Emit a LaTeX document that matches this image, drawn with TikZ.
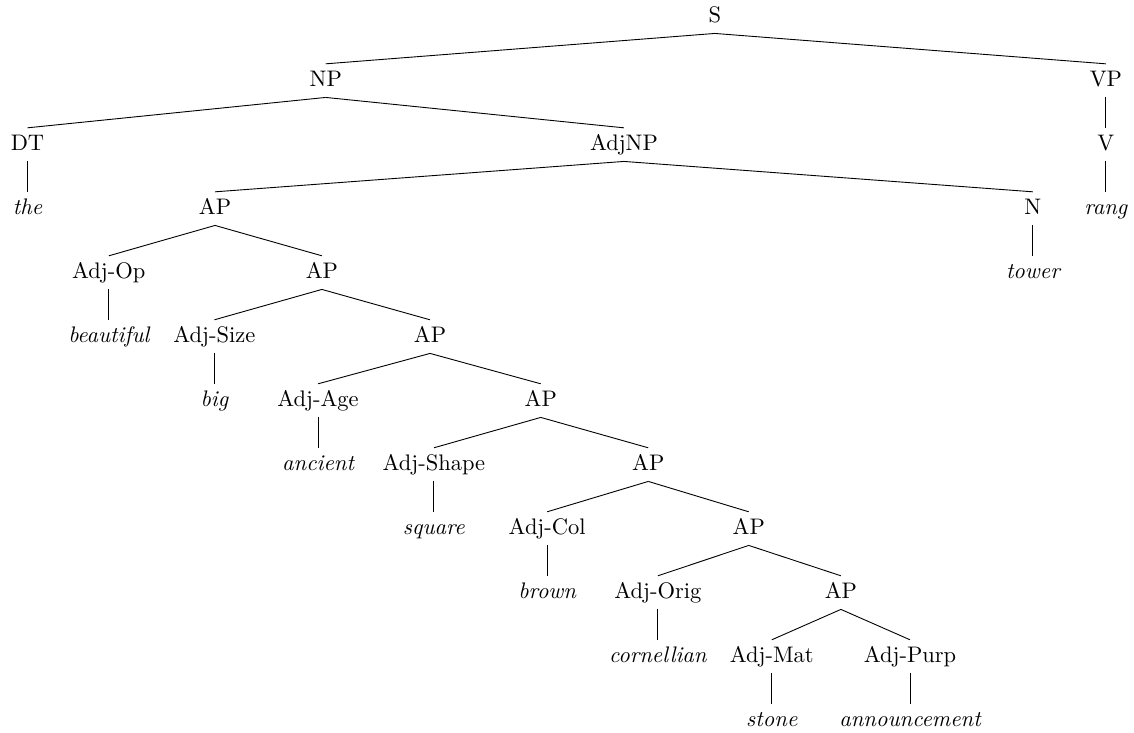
\documentclass[tikz,border=0pt]{standalone}
\usepackage{tikz}
\tikzset{
	cat/.style={inner xsep=2pt, inner ysep=3.5pt, text height=1.5ex, text depth=0.25ex},
	word/.style={cat, font=\itshape},
	branch/.style={line width=0.4pt, color=black}
}

\begin{document}
\begin{tikzpicture}
			%%%%% START %%%%%
			\useasboundingbox (0, -0.19) rectangle (17.72, 11.26);
			
			\node[cat] (S) at (11.17, 11) {S};
			
			\node[cat] (NP) at (5.09, 10) {NP};
			\node[cat] (VP) at (17.28, 10) {VP};
			
			\node[cat] (DT) at (0.43, 9) {DT};
			\node[cat] (AdjNP) at (9.75, 9) {AdjNP};
			\node[cat] (V) at (17.28, 9) {V};
			
			\node[word] (the) at (0.43, 8) {the};
			\node[cat] (AP1) at (3.36, 8) {AP};
			\node[cat] (N) at (16.14, 8) {N};
			\node[word] (rang) at (17.28, 8) {rang};
			
			\node[cat] (AdjOp) at (1.70, 7) {Adj-Op};
			\node[cat] (AP2) at (5.03, 7) {AP};
			\node[word] (tower) at (16.14, 7) {tower};
			
			\node[word] (beautiful) at (1.70, 6) {beautiful};
			\node[cat] (AdjSize) at (3.35, 6) {Adj-Size};
			\node[cat] (AP3) at (6.72, 6) {AP};
			
			\node[word] (big) at (3.35, 5) {big};
			\node[cat] (AdjAge) at (4.97, 5) {Adj-Age};
			\node[cat] (AP4) at (8.45, 5) {AP};
			
			\node[word] (ancient) at (4.97, 4) {ancient};
			\node[cat] (AdjShape) at (6.78, 4) {Adj-Shape};
			\node[cat] (AP5) at (10.13, 4) {AP};
			
			\node[word] (square) at (6.78, 3) {square};
			\node[cat] (AdjCol) at (8.55, 3) {Adj-Col};
			\node[cat] (AP6) at (11.70, 3) {AP};
			
			\node[word] (brown) at (8.55, 2) {brown};
			\node[cat] (AdjOrig) at (10.28, 2) {Adj-Orig};
			\node[cat] (AP7) at (13.14, 2) {AP};
			
			\node[word] (cornellian) at (10.28, 1) {cornellian};
			\node[cat] (AdjMat) at (12.06, 1) {Adj-Mat};
			\node[cat] (AdjPurp) at (14.22, 1) {Adj-Purp};
			
			\node[word] (stone) at (12.06, 0) {stone};
			\node[word] (announcement) at (14.22, 0) {announcement};
			
			% branches
			\draw[branch] (S.south) -- (NP.north);
			\draw[branch] (S.south) -- (VP.north);
			\draw[branch] (NP.south) -- (DT.north);
			\draw[branch] (NP.south) -- (AdjNP.north);
			\draw[branch] (VP.south) -- (V.north);
			\draw[branch] (DT.south) -- (the.north);
			\draw[branch] (AdjNP.south) -- (AP1.north);
			\draw[branch] (AdjNP.south) -- (N.north);
			\draw[branch] (V.south) -- (rang.north);
			\draw[branch] (N.south) -- (tower.north);
			\draw[branch] (AP1.south) -- (AdjOp.north);
			\draw[branch] (AP1.south) -- (AP2.north);
			\draw[branch] (AdjOp.south) -- (beautiful.north);
			\draw[branch] (AP2.south) -- (AdjSize.north);
			\draw[branch] (AP2.south) -- (AP3.north);
			\draw[branch] (AdjSize.south) -- (big.north);
			\draw[branch] (AP3.south) -- (AdjAge.north);
			\draw[branch] (AP3.south) -- (AP4.north);
			\draw[branch] (AdjAge.south) -- (ancient.north);
			\draw[branch] (AP4.south) -- (AdjShape.north);
			\draw[branch] (AP4.south) -- (AP5.north);
			\draw[branch] (AdjShape.south) -- (square.north);
			\draw[branch] (AP5.south) -- (AdjCol.north);
			\draw[branch] (AP5.south) -- (AP6.north);
			\draw[branch] (AdjCol.south) -- (brown.north);
			\draw[branch] (AP6.south) -- (AdjOrig.north);
			\draw[branch] (AP6.south) -- (AP7.north);
			\draw[branch] (AdjOrig.south) -- (cornellian.north);
			\draw[branch] (AP7.south) -- (AdjMat.north);
			\draw[branch] (AP7.south) -- (AdjPurp.north);
			\draw[branch] (AdjMat.south) -- (stone.north);
			\draw[branch] (AdjPurp.south) -- (announcement.north);
			
			%%%%% END %%%%%
		\end{tikzpicture}
\end{document}
